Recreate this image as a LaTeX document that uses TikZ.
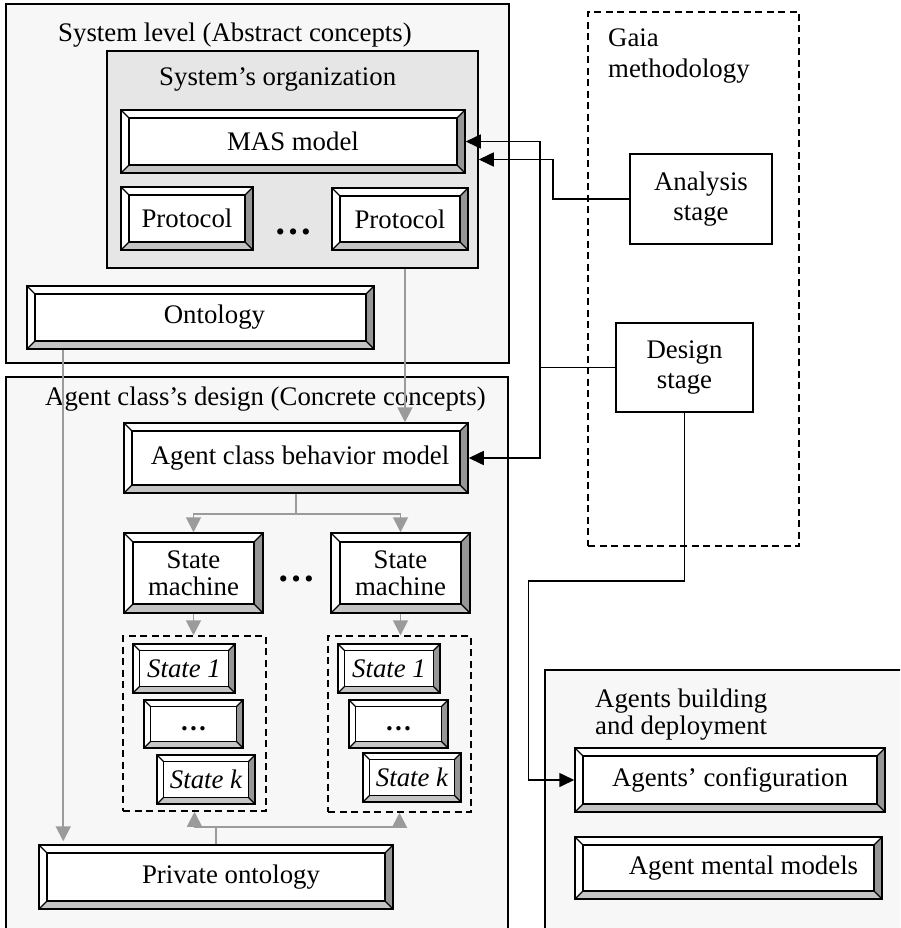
\documentclass[tikz,border=0pt]{standalone}
\usepackage{fontspec}
\setmainfont{Liberation Serif}
\usetikzlibrary{arrows.meta,calc}

\definecolor{panelbg}{RGB}{247,247,247}
\definecolor{orgbg}{RGB}{230,230,230}
\definecolor{bvdark}{RGB}{150,150,150}
\definecolor{bvlight}{RGB}{196,196,196}
\definecolor{flowgray}{RGB}{155,155,155}

\tikzset{
  txt/.style={font=\fontsize{26.8}{30}\selectfont, inner sep=0pt},
  panel/.style={draw=black, line width=1.5pt, fill=panelbg, inner sep=0pt},
  plainbox/.style={draw=black, line width=1.5pt, fill=white, inner sep=0pt, align=center,
    font=\fontsize{26.8}{30}\selectfont},
  dashbox/.style={draw=black, line width=1.5pt, dash pattern=on 7pt off 4.5pt, inner sep=0pt},
  bevel/.style={draw=black, line width=1.5pt, fill=white, inner sep=0pt, align=center,
    font=\fontsize{26.8}{30}\selectfont,
    path picture={
      \path (path picture bounding box.south west) coordinate (q1)
            (path picture bounding box.south east) coordinate (q2)
            (path picture bounding box.north east) coordinate (q3)
            (path picture bounding box.north west) coordinate (q4);
      \fill[bvdark] (q3) -- (q2) -- ([shift={(-#1,#1)}]q2) -- ([shift={(-#1,-#1)}]q3) -- cycle;
      \fill[bvlight] (q1) -- (q2) -- ([shift={(-#1,#1)}]q2) -- ([shift={(#1,#1)}]q1) -- cycle;
      \draw[line width=1.3pt] ([shift={(#1,#1)}]q1) rectangle ([shift={(-#1,-#1)}]q3);
      \draw[line width=1.2pt] (q1) -- ([shift={(#1,#1)}]q1) (q2) -- ([shift={(-#1,#1)}]q2)
            (q3) -- ([shift={(-#1,-#1)}]q3) (q4) -- ([shift={(#1,-#1)}]q4);
    }},
  bevel/.default=8pt,
  blackflow/.style={draw=black, line width=1.6pt},
  blackarrow/.style={blackflow, -{Triangle[length=15pt,width=14pt]}},
  grayflow/.style={draw=flowgray, line width=1.9pt},
  grayarrow/.style={grayflow, -{Triangle[length=15pt,width=15pt]}},
  dotsbig/.style={font=\fontsize{38}{40}\selectfont\bfseries, inner sep=0pt, anchor=base},
}

\begin{document}
\begin{tikzpicture}[x=1pt, y=-1pt]
  \useasboundingbox (0,0) rectangle (900,928);

  % ---------- panels ----------
  \node[panel, minimum width=503pt, minimum height=359pt] (sys) at (257.5,183.5) {};
  \node[draw=black, line width=1.5pt, fill=orgbg, inner sep=0pt,
        minimum width=371pt, minimum height=217pt] (org) at (292.5,159.5) {};
  \node[panel, minimum width=502pt, minimum height=560pt] (acd) at (257,657) {};
  \begin{scope}
    \clip (0,0) rectangle (900,928);
    \node[panel, minimum width=380pt, minimum height=300pt, anchor=north west] (abd) at (544,669) {};
  \end{scope}
  \node[dashbox, minimum width=211pt, minimum height=534pt] (gaia) at (693.5,279) {};

  % ---------- panel titles ----------
  \node[txt, anchor=base west] (systitle) at (58,42) {System level (Abstract concepts)};
  \node[txt, anchor=base west] (orgtitle) at (159,86) {System’s organization};
  \node[txt, anchor=base west] (acdtitle) at (45,405) {Agent class’s design (Concrete concepts)};
  \node[txt, anchor=base west] (gaiat1) at (608,47) {Gaia};
  \node[txt, anchor=base west] (gaiat2) at (608,78) {methodology};
  \node[txt, anchor=base west] (abdt1) at (595,707) {Agents building};
  \node[txt, anchor=base west] (abdt2) at (595,734) {and deployment};

  % ---------- system level ----------
  \node[bevel, minimum width=344pt, minimum height=63pt] (mas) at (293,141.5) {MAS model};
  \node[bevel, minimum width=132pt, minimum height=63pt] (prot1) at (187,218.5) {Protocol};
  \node[bevel, minimum width=136pt, minimum height=62pt] (prot2) at (400,219) {Protocol};
  \node[dotsbig] (protdots) at (293,234) {…};
  \node[bevel, minimum width=347pt, minimum height=63pt] (onto) at (200.5,317.5) {\hspace*{28pt}Ontology};

  % ---------- agent class's design ----------
  \node[bevel, minimum width=344pt, minimum height=70pt] (beh) at (296,458) {\hspace*{8pt}Agent class behavior model};
  \node[bevel=9pt, minimum width=139pt, minimum height=80pt] (sm1) at (193.5,573) {State\\[-3pt]machine};
  \node[bevel=9pt, minimum width=139pt, minimum height=80pt] (sm2) at (400.5,573) {State\\[-3pt]machine};
  \node[dotsbig] (smdots) at (296,581) {…};

  \node[dashbox, minimum width=143pt, minimum height=175pt] (db1) at (194.5,723.5) {};
  \node[dashbox, minimum width=143pt, minimum height=176pt] (db2) at (399.5,724) {};

  \node[bevel=6.5pt, minimum width=102pt, minimum height=49pt] (s1a) at (184,668.5) {\itshape State 1};
  \node[bevel=6.5pt, minimum width=99pt, minimum height=48pt] (dta) at (193.5,724) {\strut\bfseries …};
  \node[bevel=6.5pt, minimum width=98pt, minimum height=49pt] (ska) at (206,779.5) {\itshape State k};
  \node[bevel=6.5pt, minimum width=102pt, minimum height=49pt] (s1b) at (389,668.5) {\itshape State 1};
  \node[bevel=6.5pt, minimum width=99pt, minimum height=48pt] (dtb) at (398.5,724) {\strut\bfseries …};
  \node[bevel=6.5pt, minimum width=98pt, minimum height=49pt] (skb) at (412,777.5) {\itshape State k};

  \node[bevel, minimum width=354pt, minimum height=64pt] (priv) at (216,877) {\hspace*{30pt}Private ontology};

  % ---------- Gaia stages ----------
  \node[plainbox, minimum width=142pt, minimum height=90pt] (ana) at (701,199) {Analysis\\stage};
  \node[plainbox, minimum width=137pt, minimum height=89pt] (des) at (684.5,367.5) {Design\\stage};

  % ---------- agents building ----------
  \node[bevel, minimum width=310pt, minimum height=64pt] (conf) at (730,780) {Agents’ configuration};
  \node[bevel, minimum width=307pt, minimum height=62pt] (ment) at (728.5,868) {\hspace*{30pt}Agent mental models};

  % ---------- gray flows ----------
  \draw[grayarrow] ([xshift=112.5pt]org.south) -- ([xshift=112.5pt]org.south |- beh.north);
  \draw[grayarrow, shorten >=3pt] ([xshift=37pt]onto.south west) -- ([xshift=37pt]onto.south west |- priv.north);
  \draw[grayflow] (beh.south) -- ++(0,20) coordinate (bj);
  \draw[grayarrow] (bj) -| (sm1.north);
  \draw[grayarrow] (bj) -| (sm2.north);
  \draw[grayarrow] (sm1.south) -- (sm1.south |- db1.north);
  \draw[grayarrow] (sm2.south) -- (sm2.south |- db2.north);
  \draw[grayflow] (priv.north) -- ++(0,-17) coordinate (pj);
  \draw[grayarrow] (pj) -| (db1.south);
  \draw[grayarrow] (pj) -| (db2.south);

  % ---------- black flows ----------
  \draw[blackarrow] (ana.west) -- ++(-76,0) |- (org.east);
  \draw[blackarrow] (des.west) -- ++(-75,0) |- (mas.east);
  \draw[blackarrow] (des.west) -- ++(-75,0) |- (beh.east);
  \draw[blackarrow] (des.south) -- ++(0,168) -- ++(-156,0) |- (conf.west);
\end{tikzpicture}
\end{document}
